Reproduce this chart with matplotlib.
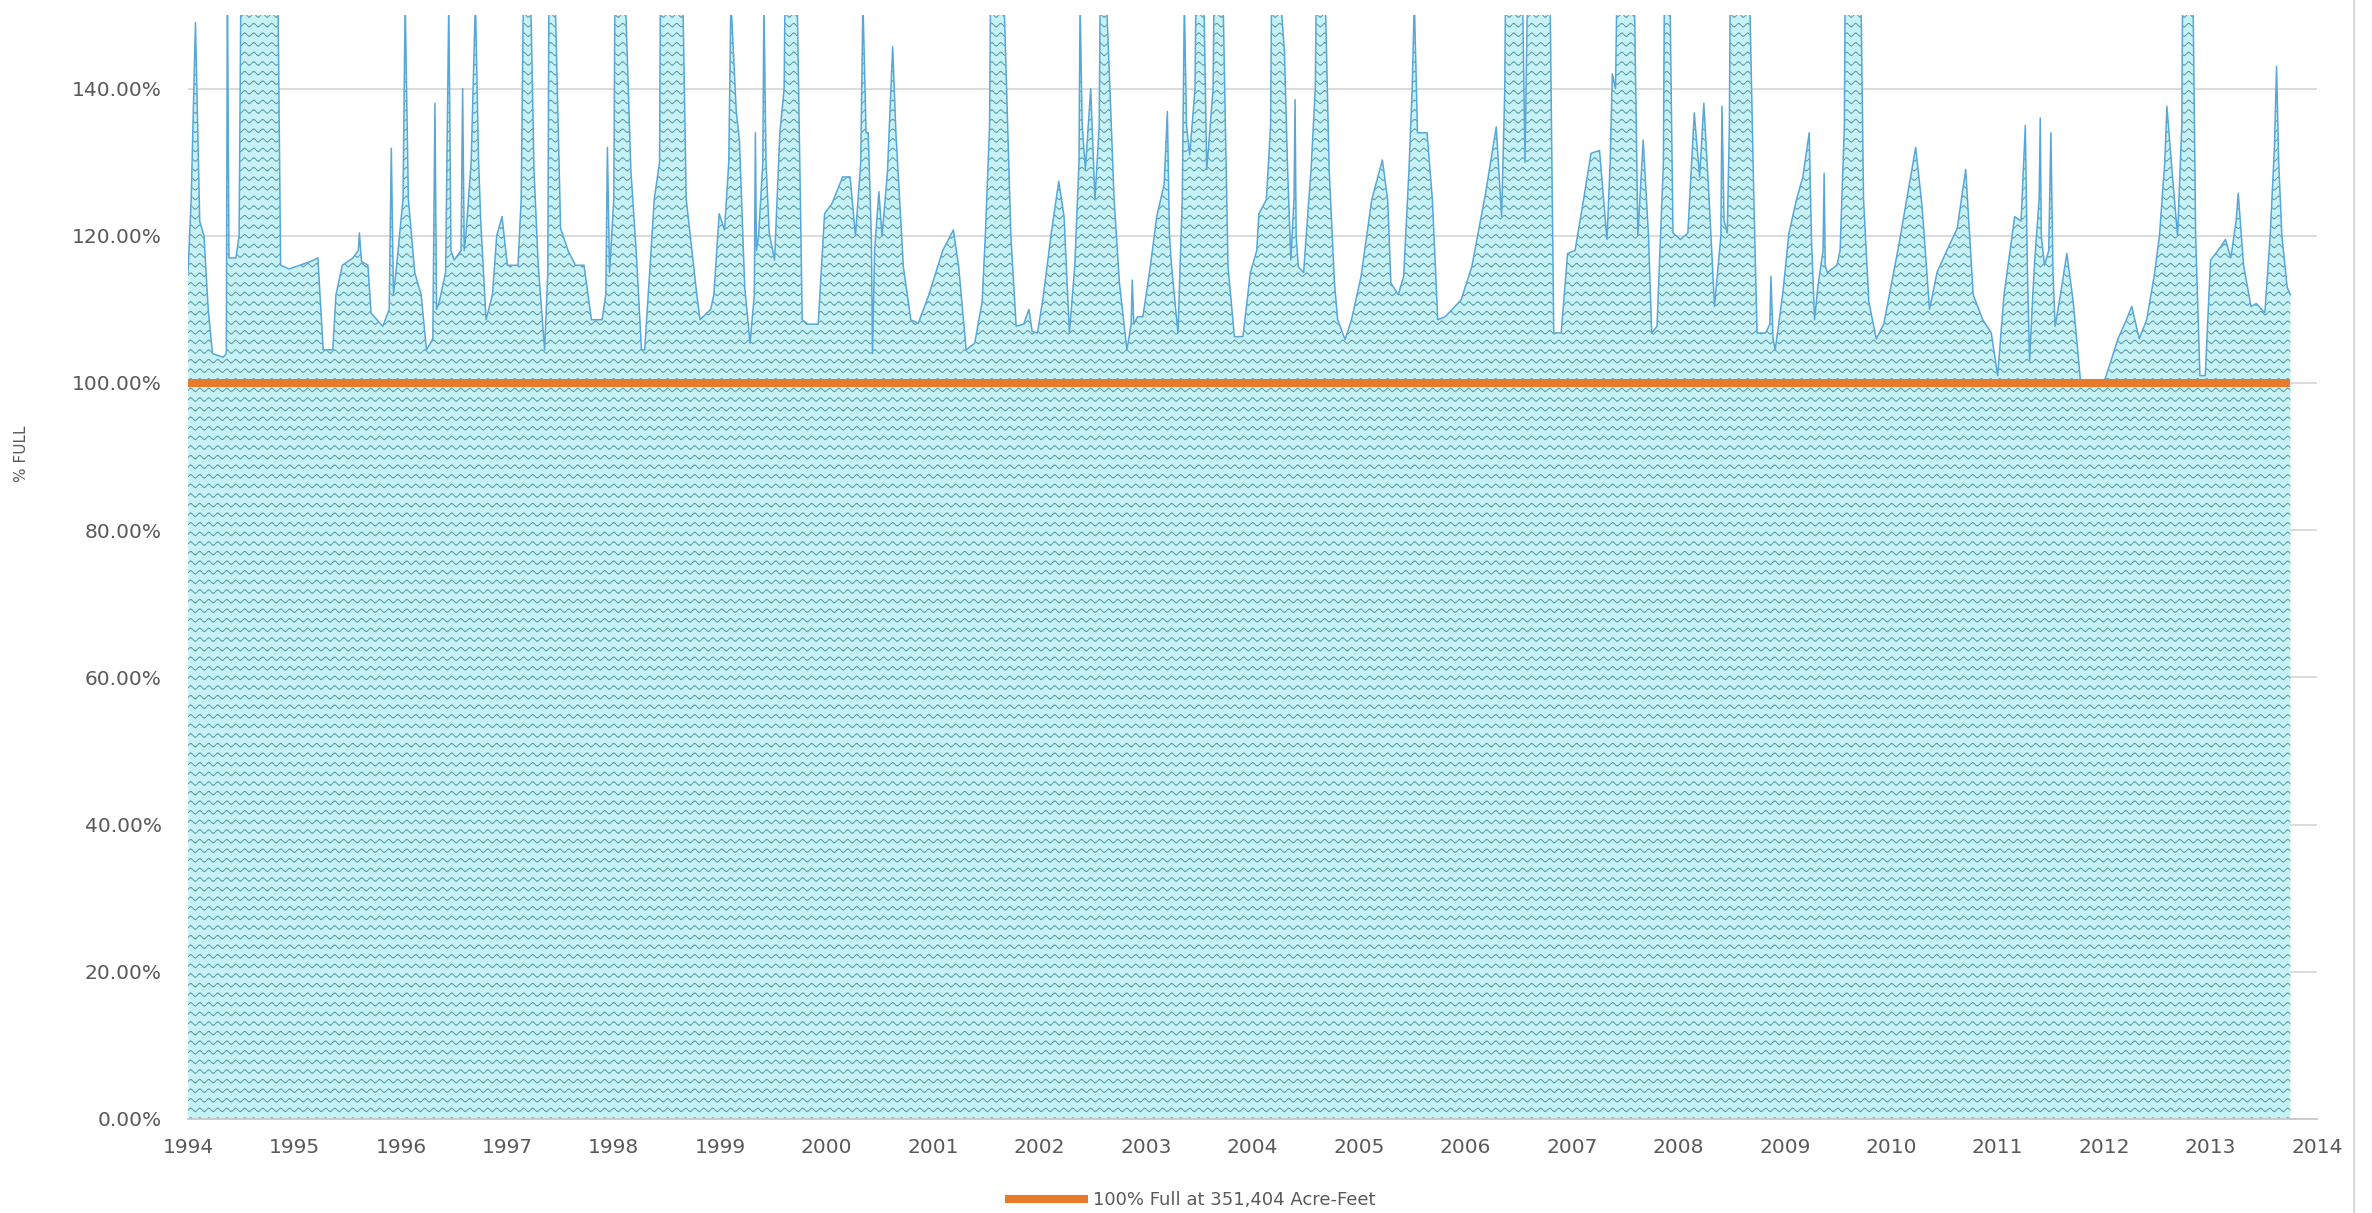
import numpy as np
import matplotlib
matplotlib.use("Agg")
import matplotlib.pyplot as plt
from matplotlib.lines import Line2D
from matplotlib.ticker import FixedLocator, FuncFormatter

# ---------------- data ----------------
years = [
    1994.00, 1994.03, 1994.07, 1994.11, 1994.15, 1994.19, 1994.23, 1994.33, 1994.36, 1994.37,
    1994.385, 1994.45, 1994.48, 1994.50, 1994.84, 1994.87, 1994.95, 1995.05, 1995.15, 1995.22,
    1995.27, 1995.36, 1995.39, 1995.45, 1995.55, 1995.60, 1995.61, 1995.63, 1995.69, 1995.72,
    1995.83, 1995.89, 1995.91, 1995.93, 1995.96, 1996.02, 1996.04, 1996.07, 1996.13, 1996.19,
    1996.24, 1996.30, 1996.32, 1996.335, 1996.36, 1996.42, 1996.45, 1996.47, 1996.50, 1996.565,
    1996.58, 1996.595, 1996.61, 1996.66, 1996.70, 1996.73, 1996.75, 1996.80, 1996.86, 1996.90,
    1996.95, 1997.00, 1997.10, 1997.13, 1997.15, 1997.22, 1997.25, 1997.29, 1997.35, 1997.38,
    1997.39, 1997.45, 1997.50, 1997.57, 1997.64, 1997.72, 1997.79, 1997.89, 1997.925, 1997.94,
    1997.96, 1998.00, 1998.01, 1998.11, 1998.16, 1998.21, 1998.26, 1998.29, 1998.35, 1998.38,
    1998.43, 1998.44, 1998.64, 1998.68, 1998.78, 1998.81, 1998.91, 1998.94, 1998.99, 1999.04,
    1999.08, 1999.10, 1999.15, 1999.18, 1999.23, 1999.28, 1999.32, 1999.33, 1999.34, 1999.36,
    1999.40, 1999.41, 1999.43, 1999.46, 1999.51, 1999.56, 1999.60, 1999.61, 1999.72, 1999.77,
    1999.82, 1999.92, 1999.98, 2000.05, 2000.15, 2000.22, 2000.27, 2000.32, 2000.34, 2000.37,
    2000.39, 2000.42, 2000.43, 2000.45, 2000.49, 2000.52, 2000.57, 2000.62, 2000.65, 2000.72,
    2000.79, 2000.86, 2000.96, 2001.09, 2001.19, 2001.24, 2001.31, 2001.39, 2001.46, 2001.49,
    2001.53, 2001.54, 2001.66, 2001.73, 2001.78, 2001.85, 2001.90, 2001.93, 2001.98, 2002.03,
    2002.11, 2002.18, 2002.23, 2002.28, 2002.33, 2002.37, 2002.38, 2002.40, 2002.43, 2002.48,
    2002.52, 2002.56, 2002.57, 2002.62, 2002.65, 2002.70, 2002.75, 2002.82, 2002.86, 2002.87,
    2002.885, 2002.92, 2002.97, 2003.04, 2003.10, 2003.17, 2003.20, 2003.22, 2003.24, 2003.30,
    2003.34, 2003.36, 2003.38, 2003.41, 2003.46, 2003.47, 2003.54, 2003.57, 2003.63, 2003.64,
    2003.72, 2003.77, 2003.83, 2003.91, 2003.98, 2004.04, 2004.06, 2004.13, 2004.17, 2004.18,
    2004.25, 2004.30, 2004.33, 2004.36, 2004.39, 2004.40, 2004.41, 2004.43, 2004.48, 2004.55,
    2004.59, 2004.60, 2004.68, 2004.72, 2004.77, 2004.80, 2004.87, 2004.93, 2005.02, 2005.12,
    2005.22, 2005.27, 2005.30, 2005.37, 2005.42, 2005.47, 2005.50, 2005.52, 2005.55, 2005.64,
    2005.69, 2005.74, 2005.81, 2005.96, 2006.06, 2006.19, 2006.29, 2006.34, 2006.37, 2006.38,
    2006.53, 2006.56, 2006.59, 2006.79, 2006.83, 2006.90, 2006.96, 2007.03, 2007.11, 2007.18,
    2007.26, 2007.33, 2007.36, 2007.38, 2007.41, 2007.43, 2007.58, 2007.62, 2007.67, 2007.72,
    2007.75, 2007.80, 2007.86, 2007.87, 2007.92, 2007.95, 2008.02, 2008.09, 2008.15, 2008.20,
    2008.24, 2008.29, 2008.34, 2008.40, 2008.41, 2008.43, 2008.46, 2008.48, 2008.49, 2008.66,
    2008.71, 2008.74, 2008.82, 2008.86, 2008.87, 2008.89, 2008.91, 2008.98, 2009.04, 2009.11,
    2009.17, 2009.23, 2009.25, 2009.28, 2009.31, 2009.36, 2009.37, 2009.38, 2009.40, 2009.49,
    2009.52, 2009.56, 2009.57, 2009.71, 2009.74, 2009.79, 2009.86, 2009.93, 2010.07, 2010.17,
    2010.23, 2010.29, 2010.36, 2010.43, 2010.51, 2010.62, 2010.70, 2010.77, 2010.86, 2010.94,
    2011.00, 2011.06, 2011.16, 2011.22, 2011.26, 2011.28, 2011.30, 2011.33, 2011.35, 2011.39,
    2011.40, 2011.41, 2011.44, 2011.48, 2011.50, 2011.52, 2011.54, 2011.59, 2011.65, 2011.71,
    2011.78, 2011.88, 2011.99, 2012.02, 2012.13, 2012.21, 2012.26, 2012.33, 2012.40, 2012.47,
    2012.52, 2012.57, 2012.59, 2012.64, 2012.69, 2012.73, 2012.74, 2012.83, 2012.86, 2012.90,
    2012.95, 2013.00, 2013.07, 2013.14, 2013.19, 2013.24, 2013.26, 2013.31, 2013.38, 2013.43,
    2013.51, 2013.56, 2013.60, 2013.62, 2013.64, 2013.67, 2013.72, 2013.75,
]
pct_full = [
    115, 125, 149, 122, 120, 110, 104, 103.5, 104, 155,
    117, 117, 120, 160, 160, 116, 115.5, 116, 116.5, 117,
    104.5, 104.5, 112, 116, 117, 118, 120.4, 116.5, 116, 109.5,
    107.7, 110, 131.9, 112, 116, 125, 152, 125, 115, 112,
    104.5, 106, 138, 110, 111, 115, 152, 118, 116.7, 118,
    140, 118, 120, 130, 152, 130, 122, 108.6, 112, 120,
    122.6, 116, 116, 125, 152, 152, 129, 116, 104.5, 115,
    152, 152, 121, 118, 116, 116, 108.6, 108.6, 112, 132,
    115, 125, 152, 152, 129, 118, 104.5, 104.5, 118, 125,
    130, 160, 160, 125, 112, 108.6, 110, 112, 123, 120.8,
    130, 152, 137, 133, 113, 105.4, 112, 134, 118, 120,
    130, 152, 130, 120.4, 116.7, 134, 140, 155, 155, 108.6,
    108, 108, 123, 124.4, 128, 128, 120, 130, 152, 134,
    134, 119.5, 104, 118, 126, 120, 128.5, 145.7, 134, 115.8,
    108.6, 108.1, 112, 118, 120.8, 115.8, 104.5, 105.4, 111, 120,
    135, 155, 155, 120, 107.7, 108, 110, 107, 106.8, 111.3,
    120.4, 127.4, 122.6, 106.8, 115.8, 130, 152, 135, 129, 140,
    124.9, 135, 155, 155, 144, 124.9, 113.6, 104.5, 108, 114,
    108, 109, 109, 115.8, 122.6, 127, 136.9, 120, 115.8, 106.8,
    125, 152, 135, 131, 140, 155, 155, 129, 140, 155,
    155, 115.8, 106.3, 106.3, 115, 118, 123, 124.9, 135, 155,
    155, 145, 129, 116.7, 125, 138.5, 120, 115.8, 115, 129,
    140, 155, 155, 129, 113.6, 108.6, 105.9, 108.6, 114.5, 124.9,
    130.3, 124.9, 113.6, 112, 114.5, 129, 140, 152, 134, 134,
    124.9, 108.6, 109, 111.3, 115.8, 125.8, 134.8, 122.6, 140, 160,
    160, 130, 160, 160, 106.8, 106.8, 117.6, 118, 124.9, 131.2,
    131.6, 119.5, 130, 142, 140, 160, 160, 120, 133, 120,
    106.8, 107.7, 130, 155, 155, 120.4, 119.5, 120.4, 136.7, 128,
    138, 124.9, 110.4, 120, 137.6, 122, 120.4, 135, 160, 160,
    124.9, 106.8, 106.8, 108, 114.5, 106, 104.5, 112, 120.4, 124.9,
    128, 134, 120, 108.6, 113, 118, 128.5, 116, 115, 116,
    118, 135, 160, 160, 125, 111, 106, 108, 118.6, 127,
    132, 124, 110, 115, 117.6, 121, 129, 112, 108.6, 106.8,
    101, 112, 122.6, 122, 135, 115, 103, 112, 117, 125,
    136, 120, 116, 118, 134, 115, 107.7, 112, 117.6, 111,
    100, 99.5, 99.8, 101, 106, 108.6, 110.4, 106, 108.6, 114.5,
    120, 130, 137.6, 128.5, 120, 135, 160, 160, 120, 101,
    101, 116.7, 118, 119.5, 117, 122, 125.8, 116, 110.4, 110.8,
    109.5, 120, 132, 143, 130, 120, 113, 112,
]
full_level = 100.0
y_ticks = [0, 20, 40, 60, 80, 100, 120, 140]
x_ticks = list(range(1994, 2015))
legend_label = "100% Full at 351,404 Acre-Feet"
y_label = "% FULL"

# ---------------- figure ----------------
W, H = 2372, 1213
fig = plt.figure(figsize=(W / 100, H / 100), dpi=100)
fig.patch.set_facecolor("white")
L, R, T, B = 188, 2317, 15, 1119
ax = fig.add_axes([L / W, 1 - B / H, (R - L) / W, (B - T) / H])

FILL_BG = "#c6f1f5"
WAVE = "#5a9ca8"
OUTLINE = "#58a7d8"
ORANGE = "#e97a2b"
TXT = "#595959"

fill = ax.fill_between(years, 0, pct_full, facecolor=FILL_BG, edgecolor="none", zorder=2)

# wavy texture clipped to the area
pw, ph = R - L, B - T
rr, cc = np.mgrid[0:ph, 0:pw].astype(float)
lam, amp, spacing, lwid = 9.0, 1.6, 9.6, 1.4
d = np.mod(rr + amp * np.sin(2 * np.pi * cc / lam), spacing)
dist = np.minimum(d, spacing - d)
alpha = np.clip(lwid / 2 + 0.5 - dist, 0, 1)
rgb = matplotlib.colors.to_rgb(WAVE)
tex = np.zeros((ph, pw, 4))
tex[..., 0], tex[..., 1], tex[..., 2] = rgb
tex[..., 3] = alpha * 0.95
im = ax.imshow(tex, extent=(1994, 2014, 0, 150), aspect="auto",
               interpolation="nearest", origin="upper", zorder=3)
im.set_clip_path(fill.get_paths()[0], transform=ax.transData)

ax.plot(years, pct_full, color=OUTLINE, lw=1.1, zorder=4)
ax.plot([years[0], years[-1]], [full_level, full_level], color=ORANGE, lw=5.8,
        solid_capstyle="butt", zorder=5, label=legend_label)

ax.set_xlim(1994, 2014)
ax.set_ylim(0, 150)
ax.yaxis.set_major_locator(FixedLocator(y_ticks))
ax.xaxis.set_major_locator(FixedLocator(x_ticks))
ax.yaxis.set_major_formatter(FuncFormatter(lambda v, p: f"{v:.2f}%"))
ax.xaxis.set_major_formatter(FuncFormatter(lambda v, p: f"{int(round(v))}"))
ax.grid(axis="y", color="#d9d9d9", lw=1.3, zorder=1)
ax.set_axisbelow(True)
for s in ["left", "right", "top"]:
    ax.spines[s].set_visible(False)
ax.spines["bottom"].set_color("#c8c8c8")
ax.spines["bottom"].set_linewidth(1.3)
ax.spines["bottom"].set_zorder(6)
ax.tick_params(axis="both", length=0, labelsize=14.5, labelcolor=TXT)
ax.tick_params(axis="y", pad=19)
ax.tick_params(axis="x", pad=14)

fig.text(14 / W, 1 - 454 / H, y_label, rotation=90, va="center", ha="left",
         fontsize=11, color=TXT)

handles, labels = ax.get_legend_handles_labels()
fig.legend(handles, labels, loc="center", bbox_to_anchor=(1190 / W, 1 - 1200 / H),
           frameon=False, fontsize=13, labelcolor=TXT, handlelength=4.6,
           handletextpad=0.3)

fig.add_artist(Line2D([2354 / W, 2354 / W], [0, 1], color="#d9d9d9", lw=1.5,
                      transform=fig.transFigure))

fig.savefig("out.png", dpi=100, facecolor="white")
